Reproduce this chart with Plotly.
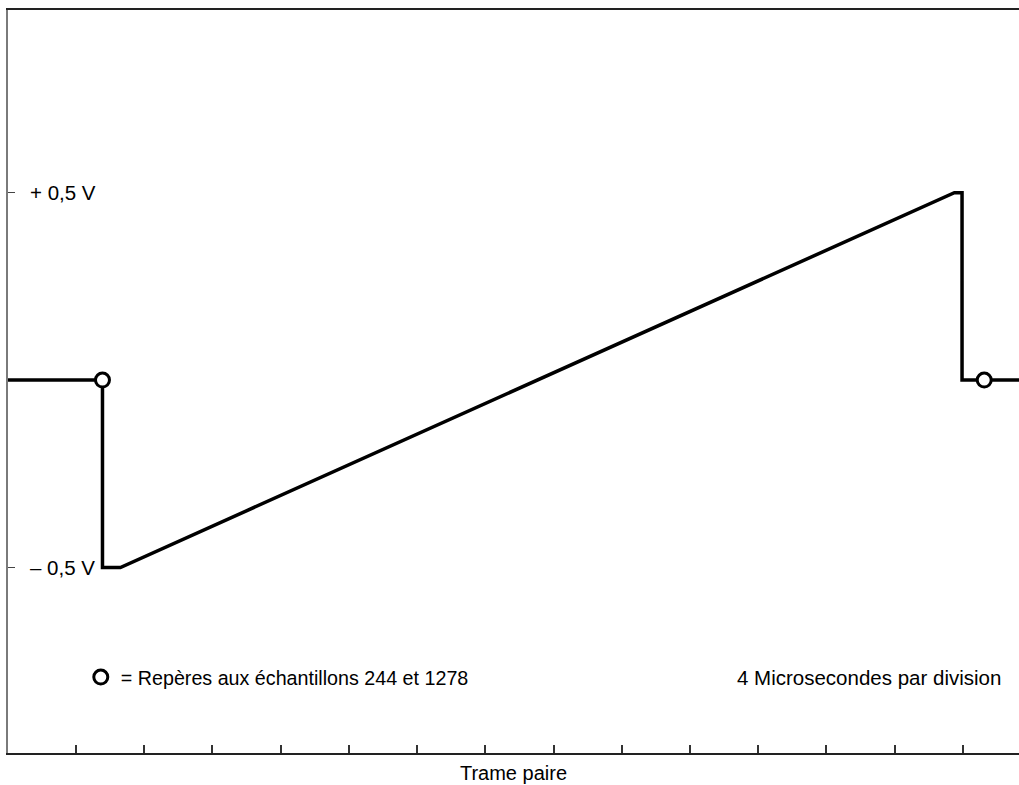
import plotly.graph_objects as go

# Waveform breakpoints (sample index, volts)
wave_samples = [133, 244, 244, 265, 1243, 1252, 1252, 1319]
wave_volts = [0.0, 0.0, -0.5, -0.5, 0.5, 0.5, 0.0, 0.0]

# Marker samples
marker_samples = [244, 1278]
marker_volts = [0.0, 0.0]

# Axis settings
y_tick_vals = [0.5, -0.5]
y_tick_text = ["+ 0,5 V", "\u2013 0,5 V"]
x_tick_vals = [213 + 80 * k for k in range(14)]

FONT = "Liberation Sans, Arial, sans-serif"
FS = 20

fig = go.Figure()

fig.add_trace(go.Scatter(
    x=wave_samples, y=wave_volts, mode="lines",
    line=dict(color="black", width=3.5), showlegend=False, hoverinfo="skip",
))

fig.add_trace(go.Scatter(
    x=marker_samples, y=marker_volts, mode="markers",
    marker=dict(symbol="circle", size=14, color="white",
                line=dict(color="black", width=3)),
    name="= Repères aux échantillons 244 et 1278",
    showlegend=True, cliponaxis=False,
))

fig.update_layout(
    width=1019, height=785,
    margin=dict(l=8, r=0, t=10, b=32),
    paper_bgcolor="white", plot_bgcolor="white",
    font=dict(family=FONT, size=FS, color="#000000"),
    legend=dict(x=0.072, y=0.102, xanchor="left", yanchor="middle",
                bgcolor="rgba(0,0,0,0)", font=dict(size=19.7, color="#000000"),
                itemwidth=30),
    xaxis=dict(
        range=[133.2, 1318.8], showgrid=False, zeroline=False,
        showline=True, linecolor="#222222", linewidth=1.5, mirror=True,
        ticks="inside", ticklen=8, tickwidth=1.5, tickcolor="#333333",
        tickvals=x_tick_vals, showticklabels=False,
        title=dict(text="Trame paire", standoff=12,
                   font=dict(size=FS, family=FONT, color="#000000")),
    ),
    yaxis=dict(
        range=[-0.995, 0.9875], showgrid=False, zeroline=False,
        showline=True, linecolor="#7a7a7a", linewidth=2,
        ticks="inside", ticklen=7, tickwidth=1, tickcolor="#444444",
        tickvals=y_tick_vals, showticklabels=False,
    ),
)

# Voltage labels placed just inside the left axis, beside their ticks
for val, txt in zip(y_tick_vals, y_tick_text):
    fig.add_annotation(
        text=txt, xref="paper", yref="y", x=0.0198, y=val,
        xanchor="left", yanchor="middle", showarrow=False,
        font=dict(size=20.5, family=FONT, color="#000000"),
    )

fig.add_annotation(
    text="4 Microsecondes par division", xref="paper", yref="paper",
    x=0.984, y=0.102, xanchor="right", yanchor="middle", showarrow=False,
    font=dict(size=20.5, family=FONT, color="#000000"),
)

fig.write_html("out.html")
